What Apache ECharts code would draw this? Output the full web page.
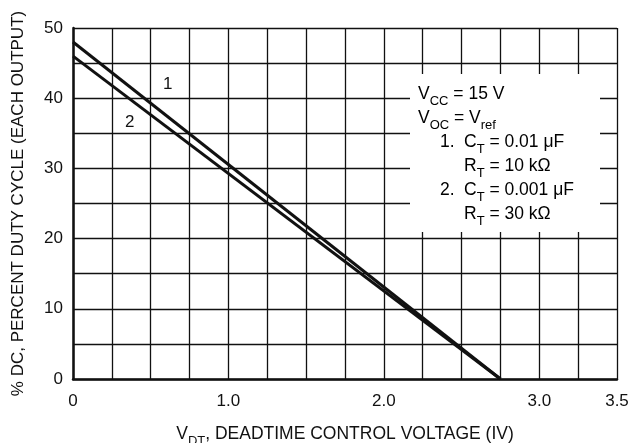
<!DOCTYPE html>
<html>
<head>
<meta charset="utf-8">
<script src="https://cdn.jsdelivr.net/npm/echarts@6/dist/echarts.min.js"></script>
<style>
  html, body { margin: 0; padding: 0; background: #fff; }
  #chart { width: 629px; height: 443px; }
</style>
</head>
<body>
<div id="chart"></div>
<script>
// deadtime control voltage (V) and duty cycle (%)
const vdt = [0, 2.75];
const dcCurve1 = [48, 0];
const dcCurve2 = [46, 0];

const curveNames = ['1', '2'];
const curveLabelPos = [[0.61, 42.0], [0.365, 36.5]];

const xTickValues = [0, 1, 2, 3, 3.5];
const xTickLabels = ['0', '1.0', '2.0', '3.0', '3.5'];
const yTickValues = [0, 10, 20, 30, 40, 50];

const FONT = "'Liberation Sans', Arial, sans-serif";
const INK = '#111';

const chart = echarts.init(document.getElementById('chart'));

function makeSeries(values, idx) {
  return {
    name: curveNames[idx],
    type: 'line',
    data: vdt.map((v, i) => [v, values[i]]),
    symbol: 'none',
    lineStyle: { color: INK, width: 3 },
    z: 5
  };
}

// little "1" / "2" tags next to the curves
const tagSeries = {
  type: 'scatter',
  symbolSize: 0,
  silent: true,
  itemStyle: { color: INK, opacity: 1 },
  data: curveLabelPos.map((p, i) => ({ value: p, name: curveNames[i] })),
  label: {
    show: true,
    position: 'inside',
    formatter: p => p.name,
    color: INK,
    opacity: 1,
    textBorderWidth: 0,
    fontFamily: FONT,
    fontSize: 17
  },
  z: 6
};

// condition box texts (column, line)
const boxLines = [
  { x: 418, y: 92, t: '{m|V}{s|CC}{m| = 15 V}' },
  { x: 418, y: 116, t: '{m|V}{s|OC}{m| = V}{s|ref}' },
  { x: 440, y: 140, t: '{m|1.}' },
  { x: 464, y: 140, t: '{m|C}{s|T}{m| = 0.01 μF}' },
  { x: 464, y: 164, t: '{m|R}{s|T}{m| = 10 kΩ}' },
  { x: 440, y: 188, t: '{m|2.}' },
  { x: 464, y: 188, t: '{m|C}{s|T}{m| = 0.001 μF}' },
  { x: 464, y: 212, t: '{m|R}{s|T}{m| = 30 kΩ}' }
];

const richSub = {
  m: { fontFamily: FONT, fontSize: 17.5, color: INK, lineHeight: 22, verticalAlign: 'bottom' },
  s: { fontFamily: FONT, fontSize: 13, color: INK, lineHeight: 22, verticalAlign: 'bottom', padding: [0, 0, -5, 0] }
};

chart.setOption({
  animation: false,
  grid: { left: 73, right: 12, top: 28, bottom: 64, containLabel: false, outerBoundsMode: 'none' },
  xAxis: {
    type: 'value',
    min: 0,
    max: 3.5,
    interval: 0.25,
    name: '{m|V}{s|DT}{m|, DEADTIME CONTROL VOLTAGE (IV)}',
    nameLocation: 'middle',
    nameGap: 42,
    nameTextStyle: { rich: richSub },
    axisLine: { lineStyle: { color: INK, width: 2.5 } },
    axisTick: { show: false },
    axisLabel: {
      margin: 14,
      color: INK,
      fontFamily: FONT,
      fontSize: 17,
      showMaxLabel: true,
      formatter: v => {
        const k = xTickValues.findIndex(t => Math.abs(t - v) < 1e-6);
        return k >= 0 ? xTickLabels[k] : '';
      }
    },
    splitLine: { show: true, lineStyle: { color: INK, width: 1.3 } }
  },
  yAxis: {
    type: 'value',
    min: 0,
    max: 50,
    interval: 5,
    name: '% DC, PERCENT DUTY CYCLE (EACH OUTPUT)',
    nameLocation: 'middle',
    nameGap: 46,
    nameTextStyle: { fontFamily: FONT, fontSize: 17, color: INK },
    axisLine: { show: true, lineStyle: { color: INK, width: 2.5 } },
    axisTick: { show: false },
    axisLabel: {
      margin: 10,
      color: INK,
      fontFamily: FONT,
      fontSize: 17,
      formatter: v => (yTickValues.includes(v) ? String(v) : '')
    },
    splitLine: { show: true, lineStyle: { color: INK, width: 1.3 } }
  },
  graphic: [
    {
      type: 'rect',
      shape: { x: 410, y: 74, width: 190, height: 158 },
      style: { fill: '#fff' },
      z: 10
    }
  ].concat(boxLines.map(l => ({
    type: 'text',
    x: l.x,
    y: l.y,
    z: 11,
    style: {
      text: l.t,
      rich: richSub,
      verticalAlign: 'middle',
      align: 'left'
    }
  }))),
  series: [makeSeries(dcCurve1, 0), makeSeries(dcCurve2, 1), tagSeries]
});
</script>
</body>
</html>
